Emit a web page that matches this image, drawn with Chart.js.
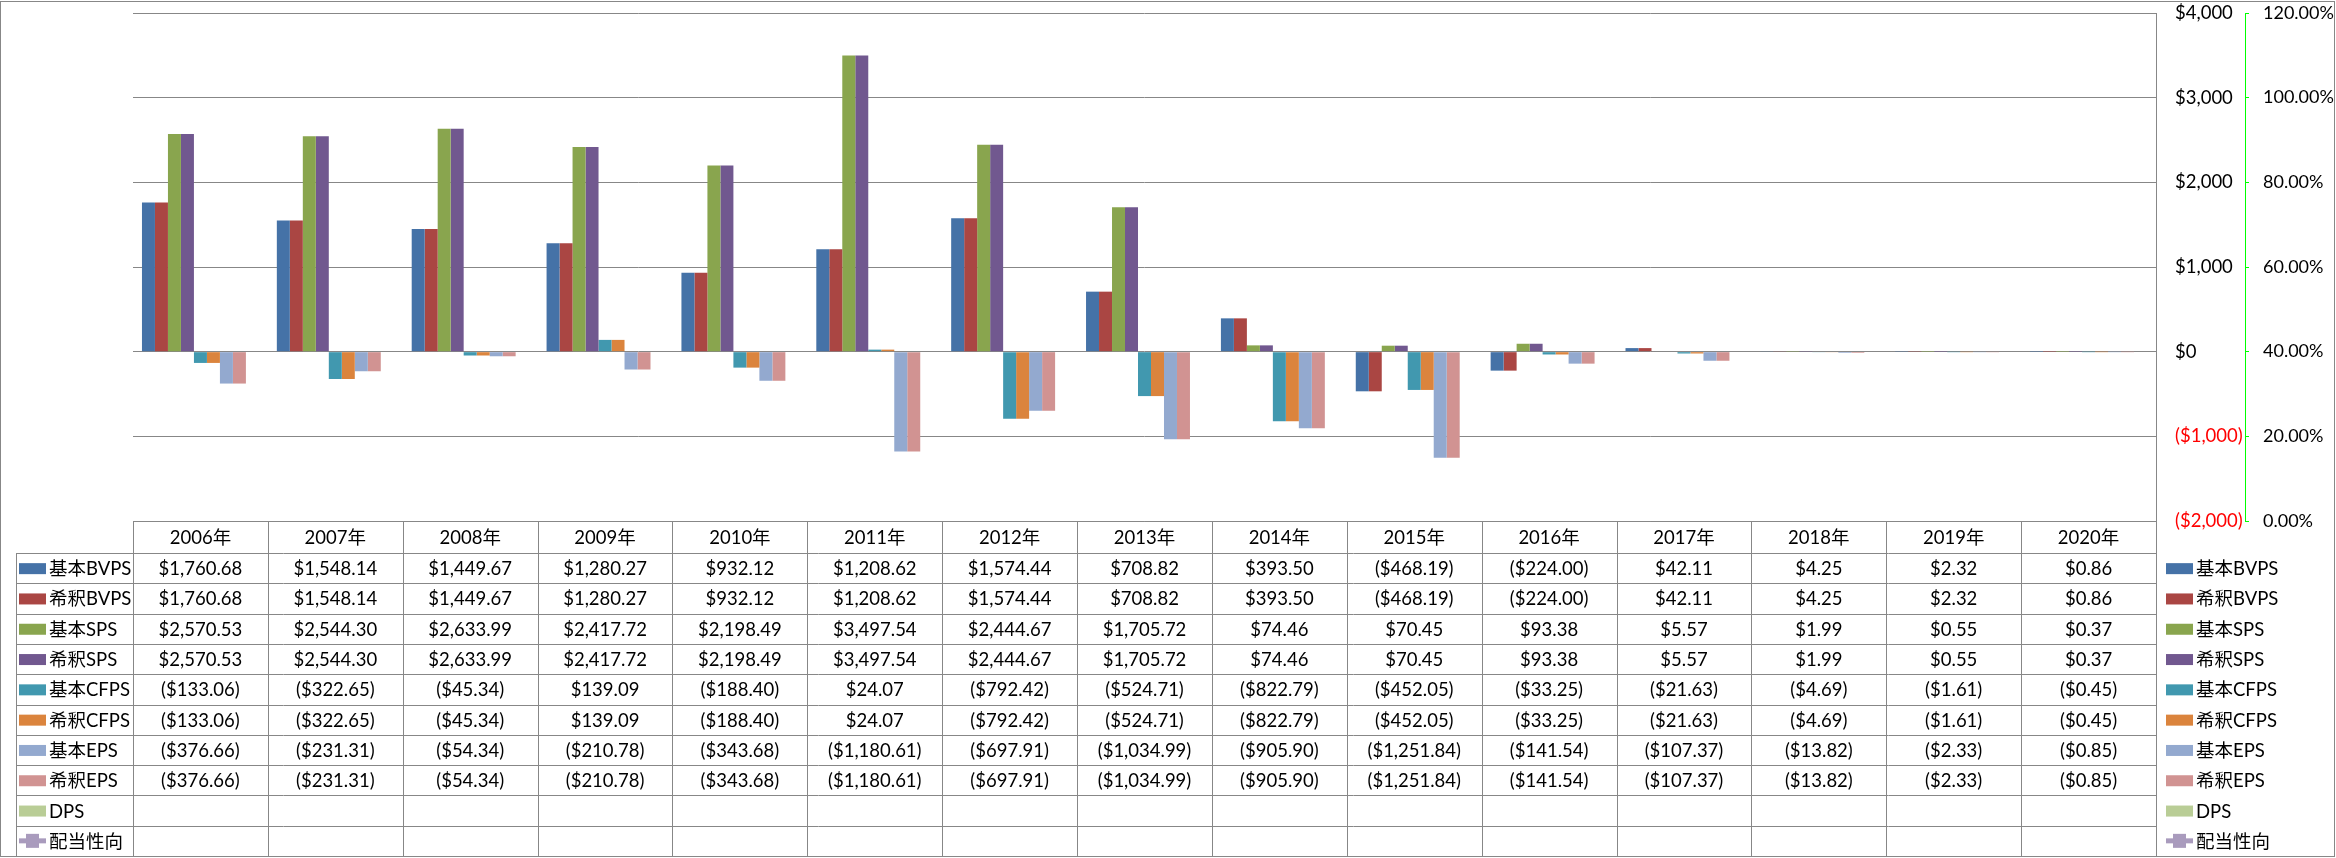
<!DOCTYPE html>
<html>
<head>
<meta charset="utf-8">
<script src="https://cdn.jsdelivr.net/npm/chart.js@4/dist/chart.umd.min.js"></script>
<style>
  html, body { margin: 0; padding: 0; background: #fff; }
  #wrap { width: 2336px; height: 858px; position: relative; }
</style>
</head>
<body>
<div id="wrap"><canvas id="chart"></canvas></div>
<script>
const years = ['2006年', '2007年', '2008年', '2009年', '2010年', '2011年', '2012年', '2013年',
    '2014年', '2015年', '2016年', '2017年', '2018年', '2019年', '2020年'];

const basicBVPS = [1760.68, 1548.14, 1449.67, 1280.27, 932.12, 1208.62, 1574.44, 708.82, 393.50, -468.19, -224.00, 42.11, 4.25, 2.32, 0.86];
const dilutedBVPS = [1760.68, 1548.14, 1449.67, 1280.27, 932.12, 1208.62, 1574.44, 708.82, 393.50, -468.19, -224.00, 42.11, 4.25, 2.32, 0.86];
const basicSPS = [2570.53, 2544.30, 2633.99, 2417.72, 2198.49, 3497.54, 2444.67, 1705.72, 74.46, 70.45, 93.38, 5.57, 1.99, 0.55, 0.37];
const dilutedSPS = [2570.53, 2544.30, 2633.99, 2417.72, 2198.49, 3497.54, 2444.67, 1705.72, 74.46, 70.45, 93.38, 5.57, 1.99, 0.55, 0.37];
const basicCFPS = [-133.06, -322.65, -45.34, 139.09, -188.40, 24.07, -792.42, -524.71, -822.79, -452.05, -33.25, -21.63, -4.69, -1.61, -0.45];
const dilutedCFPS = [-133.06, -322.65, -45.34, 139.09, -188.40, 24.07, -792.42, -524.71, -822.79, -452.05, -33.25, -21.63, -4.69, -1.61, -0.45];
const basicEPS = [-376.66, -231.31, -54.34, -210.78, -343.68, -1180.61, -697.91, -1034.99, -905.90, -1251.84, -141.54, -107.37, -13.82, -2.33, -0.85];
const dilutedEPS = [-376.66, -231.31, -54.34, -210.78, -343.68, -1180.61, -697.91, -1034.99, -905.90, -1251.84, -141.54, -107.37, -13.82, -2.33, -0.85];
const dps = [null, null, null, null, null, null, null, null, null, null, null, null, null, null, null];
const payoutRatio = [null, null, null, null, null, null, null, null, null, null, null, null, null, null, null];

const yTicks = [-2000, -1000, 0, 1000, 2000, 3000, 4000];
const y2Ticks = [0, 0.2, 0.4, 0.6, 0.8, 1.0, 1.2];

const FONT = 'Lato, "Noto Sans CJK JP", sans-serif';
const GRID = '#878787';

function money(v) {
    const s = '$' + Math.abs(v).toLocaleString('en-US', { minimumFractionDigits: 2, maximumFractionDigits: 2 });
    return v < 0 ? '(' + s + ')' : s;
}

const series = [
    { label: '基本BVPS', data: basicBVPS, color: '#4572A7' },
    { label: '希釈BVPS', data: dilutedBVPS, color: '#AA4643' },
    { label: '基本SPS', data: basicSPS, color: '#89A54E' },
    { label: '希釈SPS', data: dilutedSPS, color: '#71588F' },
    { label: '基本CFPS', data: basicCFPS, color: '#4198AF' },
    { label: '希釈CFPS', data: dilutedCFPS, color: '#DB843D' },
    { label: '基本EPS', data: basicEPS, color: '#93A9CF' },
    { label: '希釈EPS', data: dilutedEPS, color: '#D19392' },
    { label: 'DPS', data: dps, color: '#B9CD96' },
];
const lineSeries = { label: '配当性向', data: payoutRatio, color: '#A99BBD' };

// data table + right legend + outer frame, drawn under the chart area
const tablePlugin = {
    id: 'dataTable',
    afterDraw(chart) {
        const ctx = chart.ctx;
        const area = chart.chartArea;
        const n = years.length;
        const colW = (area.right - area.left) / n;
        const headTop = area.bottom;
        const headBot = headTop + 32;
        const tableBot = 856;
        const rows = series.concat([lineSeries]);
        const rowH = (tableBot - headBot) / rows.length;
        const legL = 16;
        const px = (v) => Math.round(v) + 0.5;

        ctx.save();
        ctx.strokeStyle = GRID;
        ctx.lineWidth = 1;
        ctx.beginPath();
        // header row
        ctx.moveTo(area.left, px(headTop)); ctx.lineTo(area.right, px(headTop));
        for (let i = 0; i <= n; i++) {
            const x = px(area.left + i * colW);
            ctx.moveTo(x, headTop); ctx.lineTo(x, tableBot);
        }
        for (let r = 0; r <= rows.length; r++) {
            const y = px(headBot + r * rowH);
            ctx.moveTo(legL, y); ctx.lineTo(area.right, y);
        }
        ctx.moveTo(px(legL), headBot); ctx.lineTo(px(legL), tableBot);
        ctx.stroke();

        ctx.font = '18.5px ' + FONT;
        ctx.fillStyle = '#000';
        ctx.textBaseline = 'middle';
        ctx.textAlign = 'center';
        years.forEach((y, i) => {
            ctx.fillText(y, area.left + (i + 0.5) * colW, (headTop + headBot) / 2 + 1);
        });

        rows.forEach((s, r) => {
            const cy = headBot + (r + 0.5) * rowH;
            ctx.textAlign = 'center';
            ctx.fillStyle = '#000';
            s.data.forEach((v, i) => {
                if (v === null) return;
                ctx.fillText(money(v), area.left + (i + 0.5) * colW, cy + 1);
            });
            // legend keys: in table and on the right
            [[19, 49], [2166, 2196]].forEach(([bx, tx]) => {
                if (s === lineSeries) {
                    ctx.strokeStyle = s.color;
                    ctx.lineWidth = 5;
                    ctx.beginPath();
                    ctx.moveTo(bx, cy); ctx.lineTo(bx + 27, cy);
                    ctx.stroke();
                    ctx.fillStyle = s.color;
                    ctx.fillRect(bx + 7, cy - 7, 13, 14);
                } else {
                    ctx.fillStyle = s.color;
                    ctx.fillRect(bx, cy - 5, 27, 11);
                }
                ctx.fillStyle = '#000';
                ctx.textAlign = 'left';
                ctx.fillText(s.label, tx, cy + 1);
            });
        });

        // outer frame
        ctx.strokeStyle = GRID;
        ctx.lineWidth = 1;
        ctx.strokeRect(0.5, 1.5, 2334, 855);
        ctx.restore();
    },
};

const datasets = series.map((s) => ({
    type: 'bar',
    label: s.label,
    data: s.data,
    backgroundColor: s.color,
    borderWidth: 0,
    yAxisID: 'y',
    categoryPercentage: 0.867,
    barPercentage: 1.0,
}));
datasets.push({
    type: 'line',
    label: lineSeries.label,
    data: lineSeries.data,
    borderColor: lineSeries.color,
    backgroundColor: lineSeries.color,
    yAxisID: 'y2',
});

function fixAxis(width) {
    return (scale) => {
        scale.width = width;
        scale.paddingTop = 0;
        scale.paddingBottom = 0;
    };
}

new Chart(document.getElementById('chart'), {
    data: { labels: years, datasets },
    options: {
        responsive: true,
        maintainAspectRatio: false,
        animation: false,
        layout: { padding: { left: 133, top: 13, right: 0, bottom: 337 } },
        plugins: { legend: { display: false }, tooltip: { enabled: false } },
        scales: {
            x: { display: false },
            y: {
                position: 'right',
                weight: 0,
                min: yTicks[0],
                max: yTicks[yTicks.length - 1],
                afterBuildTicks: (scale) => { scale.ticks = yTicks.map((v) => ({ value: v })); },
                afterFit: fixAxis(89),
                grid: { color: GRID, lineWidth: 1, drawTicks: false },
                border: { display: true, color: GRID },
                ticks: {
                    padding: 19,
                    font: { family: FONT, size: 18.5 },
                    color: (c) => (c.tick.value < 0 ? '#FF0000' : '#000'),
                    callback: (v) => (v < 0 ? '($' + Math.abs(v).toLocaleString('en-US') + ')' : '$' + v.toLocaleString('en-US')),
                },
            },
            y2: {
                position: 'right',
                weight: 1,
                min: y2Ticks[0],
                max: y2Ticks[y2Ticks.length - 1],
                afterBuildTicks: (scale) => { scale.ticks = y2Ticks.map((v) => ({ value: v })); },
                afterFit: fixAxis(91),
                grid: { drawOnChartArea: false, drawTicks: true, tickLength: 4, color: '#00FF00' },
                border: { display: true, color: '#00FF00', dash: [5, 3] },
                ticks: {
                    padding: 14,
                    font: { family: FONT, size: 18 },
                    color: '#000',
                    callback: (v) => (v * 100).toFixed(2) + '%',
                },
            },
        },
    },
    plugins: [tablePlugin],
});
</script>
</body>
</html>
